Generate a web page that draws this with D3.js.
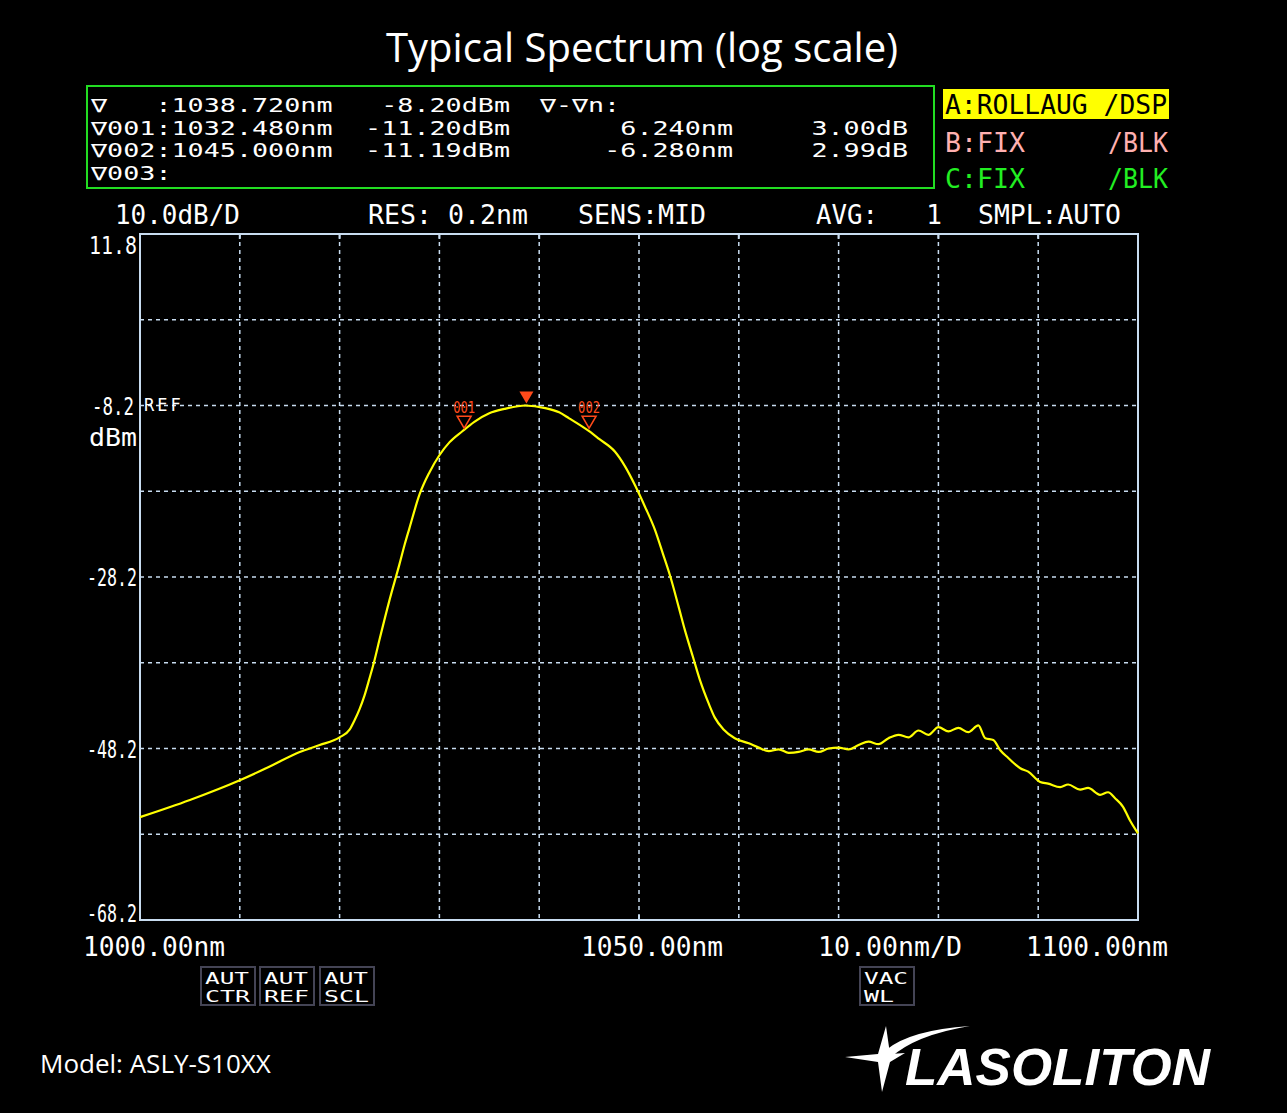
<!DOCTYPE html>
<html><head><meta charset="utf-8">
<script src="https://cdn.jsdelivr.net/npm/d3@7"></script>
<style>body{margin:0;background:#000;overflow:hidden}text{white-space:pre}</style></head>
<body><svg id="c" width="1287" height="1113"></svg>
<script>
const wavelengths=[1000,1005,1010,1013,1016,1018,1020,1021,1021.5,1022,1022.5,1023,1023.5,1024,1025,1026,1026.5,1027,1028,1029,1030,1031,1032.3,1033.5,1035,1036.5,1038.6,1040.6,1042,1043,1045,1046,1047.6,1048.6,1049.6,1050.6,1051.6,1052.4,1053.1,1054,1054.6,1055.4,1056.1,1057,1057.6,1058.5,1059.6,1061,1062,1063,1064,1065,1066,1067,1068,1069,1070,1071,1072,1073,1074,1075,1076,1077,1078,1079,1080,1081,1082,1083,1084,1084.7,1085.5,1086.2,1087,1088.2,1089,1090.2,1091,1092.2,1093,1094.2,1095,1096.2,1097,1097.7,1098.5,1099.2,1100];
const powerDbm=[-56.2,-54.2,-51.9,-50.3,-48.6,-47.8,-46.9,-46.0,-44.9,-43.6,-42,-40.0,-37.9,-35.5,-30.9,-26.7,-24.5,-22.5,-18.6,-16.0,-14,-12.5,-11.2,-10.1,-9.1,-8.6,-8.2,-8.5,-9.0,-9.7,-11.2,-12.1,-13.6,-15.3,-17.5,-20.0,-22.7,-25.5,-28,-31.8,-34.4,-37.5,-40.2,-43.0,-44.6,-46.0,-47,-47.6,-48.1,-48.5,-48.3,-48.7,-48.6,-48.3,-48.6,-48.2,-48.1,-48.3,-47.8,-47.4,-47.7,-47.0,-46.6,-46.9,-46.1,-46.6,-45.7,-46.2,-45.8,-46.3,-45.5,-47,-47.2,-48.4,-49.3,-50.5,-50.9,-52.1,-52.3,-52.7,-52.4,-53.0,-52.8,-53.6,-53.3,-54.0,-55.0,-56.6,-58.1];
const yTickLabels=["11.8","-8.2","-28.2","-48.2","-68.2"];
const yTickValues=[11.8,-8.2,-28.2,-48.2,-68.2];
const xTickLabels=["1000.00nm","1050.00nm","10.00nm/D","1100.00nm"];
const markerNm=[1038.72,1032.48,1045.0];
const markerDbm=[-8.2,-11.2,-11.19];
const infoRows=[["∇   :1038.720nm","-8.20dBm","∇-∇n:","",""],["∇001:1032.480nm","-11.20dBm","","6.240nm","3.00dB"],["∇002:1045.000nm","-11.19dBm","","-6.280nm","2.99dB"],["∇003:","","","",""]];

const svg=d3.select("#c");
svg.append("rect").attr("width",1287).attr("height",1113).attr("fill","#000");
const L=140,R=1138,T=234,B=920;
const x=d3.scaleLinear().domain([1000,1100]).range([L,R]);
const y=d3.scaleLinear().domain([-68.2,11.8]).range([B,T]);
const mono="'DejaVu Sans Mono',monospace";
function t(xp,yp,s,fs,col,anchor,len){const e=svg.append("text").attr("x",xp).attr("y",yp).attr("xml:space","preserve").text(s).attr("font-family",mono).attr("font-size",fs).attr("fill",col||"#fff").attr("text-anchor",anchor||"start");if(len)e.attr("textLength",len).attr("lengthAdjust","spacingAndGlyphs");return e;}

svg.append("text").attr("x",642).attr("y",62).attr("text-anchor","middle").attr("font-family","'Open Sans',sans-serif").attr("font-size",40).attr("fill","#fff").text("Typical Spectrum (log scale)");

// info box
svg.append("rect").attr("x",87).attr("y",86).attr("width",847).attr("height",102).attr("fill","none").attr("stroke","#22dd22").attr("stroke-width",2);
const cols=[[91,"start"],[510,"end"],[540,"start"],[733,"end"],[908,"end"]];
infoRows.forEach((r,i)=>{r.forEach((s,j)=>{if(s)t(cols[j][0],112+i*22.5,s,19,"#fff",cols[j][1],j==2?80:s.length*16.1);});});
svg.append("rect").attr("x",943).attr("y",89).attr("width",226).attr("height",30).attr("fill","#ffff00");
t(945,114,"A:ROLLAUG /DSP",27,"#000","start",222);
t(945,152,"B:FIX",27,"#ffb0b0","start",80);t(1168,152,"/BLK",27,"#ffb0b0","end",60);
t(945,188,"C:FIX",27,"#22ee22","start",80);t(1168,188,"/BLK",27,"#22ee22","end",60);
t(115,224,"10.0dB/D",26,"#fff","start",125);
t(368,224,"RES: 0.2nm",26,"#fff","start",160);
t(578,224,"SENS:MID",26,"#fff","start",128);
t(816,224,"AVG:",26,"#fff","start",62);
t(942,224,"1",26,"#fff","end");
t(978,224,"SMPL:AUTO",26,"#fff","start",143);

// grid
const gcol="#c8dcf0";
d3.range(1,10).forEach(i=>svg.append("line").attr("x1",x(1000+i*10)).attr("x2",x(1000+i*10)).attr("y1",T).attr("y2",B).attr("stroke",gcol).attr("stroke-width",1.5).attr("stroke-dasharray","4,4"));
d3.range(1,8).forEach(i=>svg.append("line").attr("y1",y(-68.2+i*10)).attr("y2",y(-68.2+i*10)).attr("x1",L).attr("x2",R).attr("stroke",gcol).attr("stroke-width",1.5).attr("stroke-dasharray","4,4"));
svg.append("rect").attr("x",L).attr("y",T).attr("width",R-L).attr("height",B-T).attr("fill","none").attr("stroke",gcol).attr("stroke-width",2);
d3.range(1,10).forEach(i=>{svg.append("line").attr("x1",x(1000+i*10)).attr("x2",x(1000+i*10)).attr("y1",T).attr("y2",T+5).attr("stroke",gcol).attr("stroke-width",2);});
svg.append("line").attr("x1",x(1050)).attr("x2",x(1050)).attr("y1",B-5).attr("y2",B).attr("stroke",gcol).attr("stroke-width",2);

yTickValues.forEach((v,i)=>{const yy=i==0?y(v)+20:(i==4?y(v)+2:y(v)+9);t(i==1?134:137,yy,yTickLabels[i],25,"#fff","end",i==0?48:(i==1?42:50));});
t(144,411,"REF",17,"#fff","start").attr("letter-spacing",3);
t(137,446,"dBm",25,"#fff","end",48);
const xl=[[x(1000)-57,"start",142],[x(1050)-58,"start",142],[818,"start",144],[1026,"start",142]];
xTickLabels.forEach((s,i)=>t(xl[i][0],956,s,27,"#fff","start",xl[i][2]));

// buttons
function btn(bx,l1,l2){svg.append("rect").attr("x",bx).attr("y",967).attr("width",54).attr("height",38).attr("fill","none").attr("stroke","#445").attr("stroke-width",2);t(bx+4,984,l1,16,"#fff","start",44);t(bx+4,1002,l2,16,"#fff","start",l2.length*15);}
btn(201,"AUT","CTR");btn(260,"AUT","REF");btn(320,"AUT","SCL");btn(860,"VAC","WL");

// curve
const line=d3.line().x((d,i)=>x(wavelengths[i])).y(d=>y(d)).curve(d3.curveMonotoneX);
svg.append("path").datum(powerDbm).attr("d",line).attr("fill","none").attr("stroke","#ffff00").attr("stroke-width",2.2);

// markers
const mc="#ff4a1a";
svg.append("path").attr("d",`M${x(markerNm[0])-7},${y(markerDbm[0])-14}h14l-7,12z`).attr("fill",mc);
[1,2].forEach(i=>{const mx=x(markerNm[i]),my=y(markerDbm[i]);
 svg.append("path").attr("d",`M${mx-7},${my-15}h14l-7,12z`).attr("fill","none").attr("stroke",mc).attr("stroke-width",1.5);
 t(mx,my-18,i==1?"001":"002",15,mc,"middle",22);});

svg.append("text").attr("x",40).attr("y",1073).attr("font-family","'Open Sans',sans-serif").attr("font-size",26).attr("fill","#fff").text("Model: ASLY-S10XX");
// logo
const g=svg.append("g");
g.append("path").attr("d","M845,1057 L878,1054 L886,1026 L890,1054 L905,1053 L890,1062 L882,1092 L878,1062 Z").attr("fill","#fff");
g.append("path").attr("d","M886,1050 Q910,1030 970,1026 Q915,1035 890,1058Z").attr("fill","#fff");
svg.append("text").attr("x",905).attr("y",1085).attr("font-family","'Liberation Sans',sans-serif").attr("font-style","italic").attr("font-weight","bold").attr("font-size",52).attr("fill","#fff").attr("textLength",305).attr("lengthAdjust","spacingAndGlyphs").text("LASOLITON");
</script></body></html>
